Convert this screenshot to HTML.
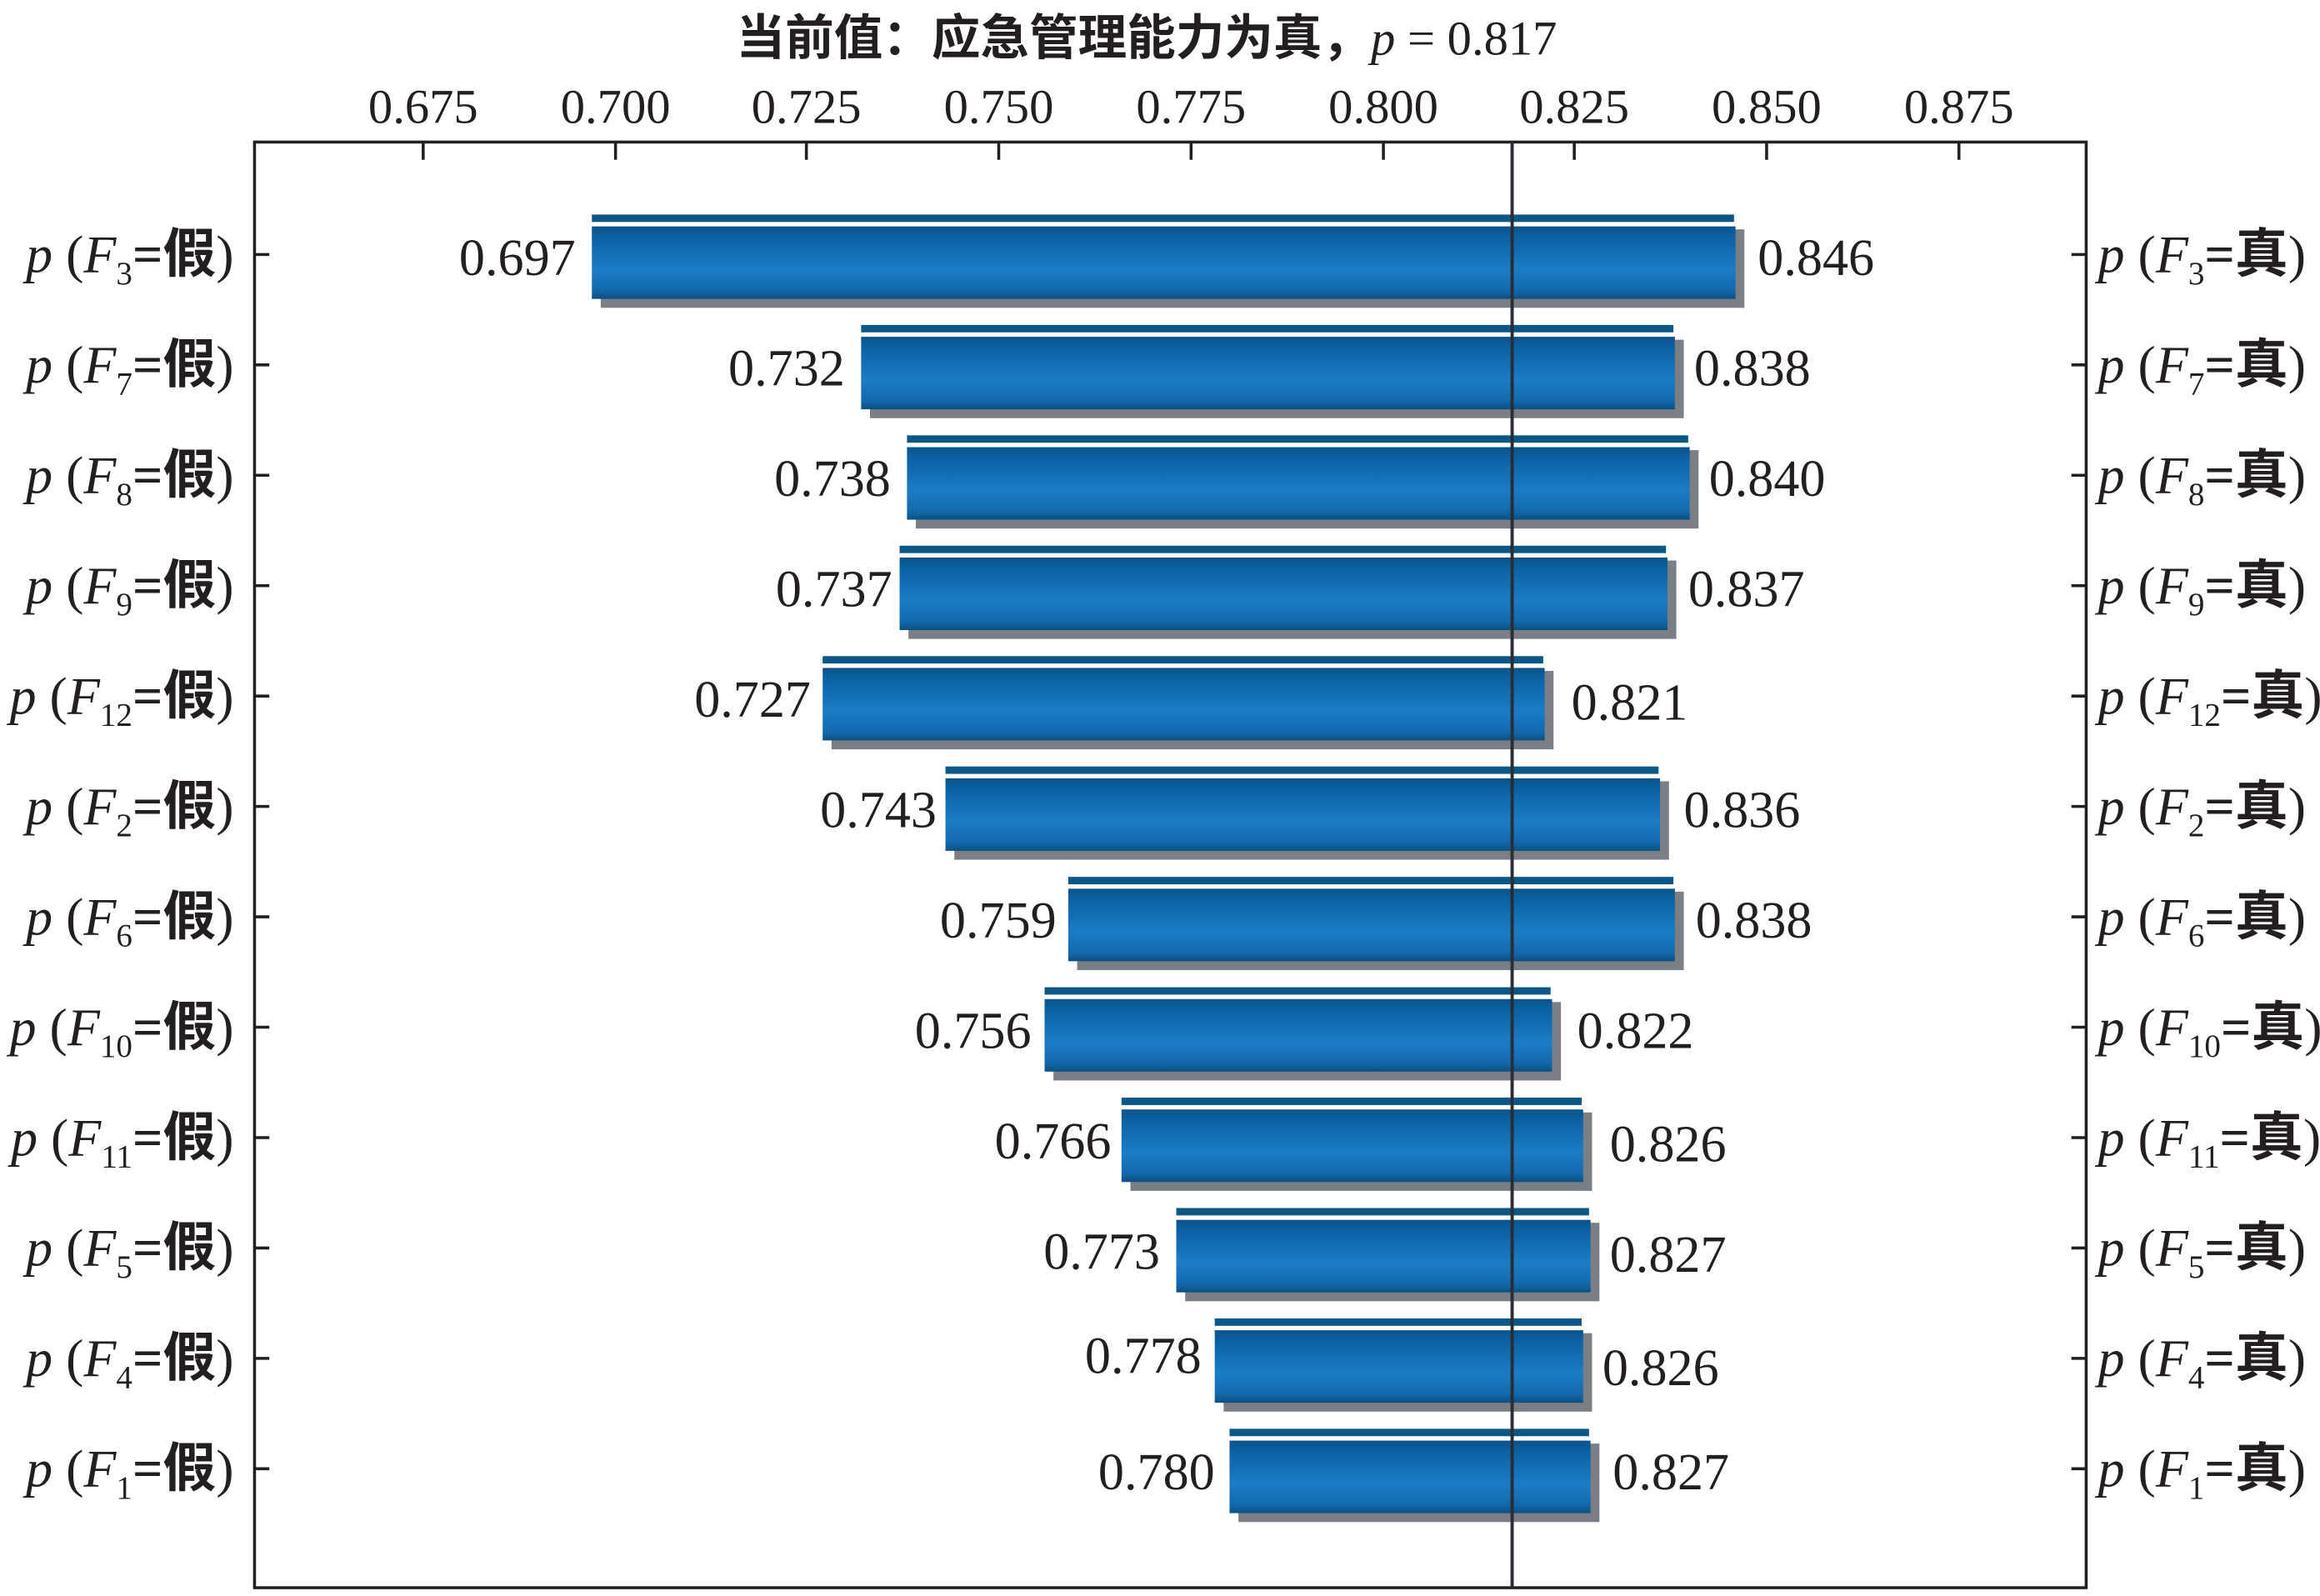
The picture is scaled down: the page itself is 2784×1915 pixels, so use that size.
<!DOCTYPE html>
<html><head><meta charset="utf-8"><style>
html,body{margin:0;padding:0;background:#fff}
svg{display:block}
text{font-family:"Liberation Serif","Noto Serif CJK SC",serif;fill:#231f20}
.cj{font-family:"Liberation Serif","Noto Sans CJK SC",sans-serif;font-weight:bold}
.lab{font-size:36px}
</style></head><body>
<svg width="2784" height="1915" viewBox="0 0 1568 1078.6" xmlns="http://www.w3.org/2000/svg">
<defs>
<linearGradient id="g" x1="0" y1="0" x2="0" y2="1">
<stop offset="0" stop-color="#0a5389"/>
<stop offset="0.15" stop-color="#0b62a3"/>
<stop offset="0.6" stop-color="#1b7cc6"/>
<stop offset="0.88" stop-color="#1369ad"/>
<stop offset="1" stop-color="#0b4f80"/>
</linearGradient>
</defs>
<text x="775" y="37" font-size="33" text-anchor="middle"><tspan class="cj">当前值：应急管理能力为真，</tspan><tspan font-style="italic">p</tspan> = 0.817</text>
<g font-size="33" text-anchor="middle">
<text x="286" y="83">0.675</text><text x="416" y="83">0.700</text><text x="545" y="83">0.725</text><text x="675" y="83">0.750</text><text x="805" y="83">0.775</text><text x="935" y="83">0.800</text><text x="1064" y="83">0.825</text><text x="1194" y="83">0.850</text><text x="1324" y="83">0.875</text>
</g>
<rect x="172" y="96" width="1238" height="977" fill="none" stroke="#231f20" stroke-width="2"/>
<g stroke="#231f20" stroke-width="2">
<line x1="286" y1="96" x2="286" y2="108"/><line x1="416" y1="96" x2="416" y2="108"/><line x1="545" y1="96" x2="545" y2="108"/><line x1="675" y1="96" x2="675" y2="108"/><line x1="805" y1="96" x2="805" y2="108"/><line x1="935" y1="96" x2="935" y2="108"/><line x1="1064" y1="96" x2="1064" y2="108"/><line x1="1194" y1="96" x2="1194" y2="108"/><line x1="1324" y1="96" x2="1324" y2="108"/>
</g>

<g font-size="35">
<g transform="translate(0,172)"><rect x="400" y="-27" width="772" height="5" fill="#0b5785"/><rect x="406" y="-17" width="773" height="53" fill="#7a7f86"/><rect x="400" y="-19" width="773" height="49" fill="url(#g)"/><text x="389" y="14" text-anchor="end">0.697</text><text x="1188" y="14">0.846</text><text class="lab" x="158" y="12" text-anchor="end"><tspan font-style="italic">p</tspan> (<tspan font-style="italic">F</tspan><tspan font-size="22" dy="8">3</tspan><tspan dy="-8" class="cj">=假</tspan>)</text><text class="lab" x="1418" y="12"><tspan font-style="italic">p</tspan> (<tspan font-style="italic">F</tspan><tspan font-size="22" dy="8">3</tspan><tspan dy="-8" class="cj">=真</tspan>)</text><line x1="172" y1="0" x2="182" y2="0" stroke="#231f20" stroke-width="2"/><line x1="1400" y1="0" x2="1410" y2="0" stroke="#231f20" stroke-width="2"/></g>

<g transform="translate(0,246.6)"><rect x="582" y="-27" width="549" height="5" fill="#0b5785"/><rect x="588" y="-17" width="550" height="53" fill="#7a7f86"/><rect x="582" y="-19" width="550" height="49" fill="url(#g)"/><text x="571" y="14" text-anchor="end">0.732</text><text x="1145" y="14">0.838</text><text class="lab" x="158" y="12" text-anchor="end"><tspan font-style="italic">p</tspan> (<tspan font-style="italic">F</tspan><tspan font-size="22" dy="8">7</tspan><tspan dy="-8" class="cj">=假</tspan>)</text><text class="lab" x="1418" y="12"><tspan font-style="italic">p</tspan> (<tspan font-style="italic">F</tspan><tspan font-size="22" dy="8">7</tspan><tspan dy="-8" class="cj">=真</tspan>)</text><line x1="172" y1="0" x2="182" y2="0" stroke="#231f20" stroke-width="2"/><line x1="1400" y1="0" x2="1410" y2="0" stroke="#231f20" stroke-width="2"/></g>

<g transform="translate(0,321.2)"><rect x="613" y="-27" width="528" height="5" fill="#0b5785"/><rect x="619" y="-17" width="529" height="53" fill="#7a7f86"/><rect x="613" y="-19" width="529" height="49" fill="url(#g)"/><text x="602" y="14" text-anchor="end">0.738</text><text x="1155" y="14">0.840</text><text class="lab" x="158" y="12" text-anchor="end"><tspan font-style="italic">p</tspan> (<tspan font-style="italic">F</tspan><tspan font-size="22" dy="8">8</tspan><tspan dy="-8" class="cj">=假</tspan>)</text><text class="lab" x="1418" y="12"><tspan font-style="italic">p</tspan> (<tspan font-style="italic">F</tspan><tspan font-size="22" dy="8">8</tspan><tspan dy="-8" class="cj">=真</tspan>)</text><line x1="172" y1="0" x2="182" y2="0" stroke="#231f20" stroke-width="2"/><line x1="1400" y1="0" x2="1410" y2="0" stroke="#231f20" stroke-width="2"/></g>

<g transform="translate(0,395.8)"><rect x="608" y="-27" width="518" height="5" fill="#0b5785"/><rect x="614" y="-17" width="519" height="53" fill="#7a7f86"/><rect x="608" y="-19" width="519" height="49" fill="url(#g)"/><text x="603" y="14" text-anchor="end">0.737</text><text x="1141" y="14">0.837</text><text class="lab" x="158" y="12" text-anchor="end"><tspan font-style="italic">p</tspan> (<tspan font-style="italic">F</tspan><tspan font-size="22" dy="8">9</tspan><tspan dy="-8" class="cj">=假</tspan>)</text><text class="lab" x="1418" y="12"><tspan font-style="italic">p</tspan> (<tspan font-style="italic">F</tspan><tspan font-size="22" dy="8">9</tspan><tspan dy="-8" class="cj">=真</tspan>)</text><line x1="172" y1="0" x2="182" y2="0" stroke="#231f20" stroke-width="2"/><line x1="1400" y1="0" x2="1410" y2="0" stroke="#231f20" stroke-width="2"/></g>

<g transform="translate(0,470.4)"><rect x="556" y="-27" width="487" height="5" fill="#0b5785"/><rect x="562" y="-17" width="488" height="53" fill="#7a7f86"/><rect x="556" y="-19" width="488" height="49" fill="url(#g)"/><text x="548" y="14" text-anchor="end">0.727</text><text x="1062" y="16">0.821</text><text class="lab" x="158" y="12" text-anchor="end"><tspan font-style="italic">p</tspan> (<tspan font-style="italic">F</tspan><tspan font-size="22" dy="8">12</tspan><tspan dy="-8" class="cj">=假</tspan>)</text><text class="lab" x="1418" y="12"><tspan font-style="italic">p</tspan> (<tspan font-style="italic">F</tspan><tspan font-size="22" dy="8">12</tspan><tspan dy="-8" class="cj">=真</tspan>)</text><line x1="172" y1="0" x2="182" y2="0" stroke="#231f20" stroke-width="2"/><line x1="1400" y1="0" x2="1410" y2="0" stroke="#231f20" stroke-width="2"/></g>

<g transform="translate(0,545)"><rect x="639" y="-27" width="482" height="5" fill="#0b5785"/><rect x="645" y="-17" width="483" height="53" fill="#7a7f86"/><rect x="639" y="-19" width="483" height="49" fill="url(#g)"/><text x="633" y="14" text-anchor="end">0.743</text><text x="1138" y="14">0.836</text><text class="lab" x="158" y="12" text-anchor="end"><tspan font-style="italic">p</tspan> (<tspan font-style="italic">F</tspan><tspan font-size="22" dy="8">2</tspan><tspan dy="-8" class="cj">=假</tspan>)</text><text class="lab" x="1418" y="12"><tspan font-style="italic">p</tspan> (<tspan font-style="italic">F</tspan><tspan font-size="22" dy="8">2</tspan><tspan dy="-8" class="cj">=真</tspan>)</text><line x1="172" y1="0" x2="182" y2="0" stroke="#231f20" stroke-width="2"/><line x1="1400" y1="0" x2="1410" y2="0" stroke="#231f20" stroke-width="2"/></g>

<g transform="translate(0,619.6)"><rect x="722" y="-27" width="409" height="5" fill="#0b5785"/><rect x="728" y="-17" width="410" height="53" fill="#7a7f86"/><rect x="722" y="-19" width="410" height="49" fill="url(#g)"/><text x="714" y="14" text-anchor="end">0.759</text><text x="1146" y="14">0.838</text><text class="lab" x="158" y="12" text-anchor="end"><tspan font-style="italic">p</tspan> (<tspan font-style="italic">F</tspan><tspan font-size="22" dy="8">6</tspan><tspan dy="-8" class="cj">=假</tspan>)</text><text class="lab" x="1418" y="12"><tspan font-style="italic">p</tspan> (<tspan font-style="italic">F</tspan><tspan font-size="22" dy="8">6</tspan><tspan dy="-8" class="cj">=真</tspan>)</text><line x1="172" y1="0" x2="182" y2="0" stroke="#231f20" stroke-width="2"/><line x1="1400" y1="0" x2="1410" y2="0" stroke="#231f20" stroke-width="2"/></g>

<g transform="translate(0,694.2)"><rect x="706" y="-27" width="342" height="5" fill="#0b5785"/><rect x="712" y="-17" width="343" height="53" fill="#7a7f86"/><rect x="706" y="-19" width="343" height="49" fill="url(#g)"/><text x="697" y="14" text-anchor="end">0.756</text><text x="1066" y="14">0.822</text><text class="lab" x="158" y="12" text-anchor="end"><tspan font-style="italic">p</tspan> (<tspan font-style="italic">F</tspan><tspan font-size="22" dy="8">10</tspan><tspan dy="-8" class="cj">=假</tspan>)</text><text class="lab" x="1418" y="12"><tspan font-style="italic">p</tspan> (<tspan font-style="italic">F</tspan><tspan font-size="22" dy="8">10</tspan><tspan dy="-8" class="cj">=真</tspan>)</text><line x1="172" y1="0" x2="182" y2="0" stroke="#231f20" stroke-width="2"/><line x1="1400" y1="0" x2="1410" y2="0" stroke="#231f20" stroke-width="2"/></g>

<g transform="translate(0,768.8)"><rect x="758" y="-27" width="311" height="5" fill="#0b5785"/><rect x="764" y="-17" width="312" height="53" fill="#7a7f86"/><rect x="758" y="-19" width="312" height="49" fill="url(#g)"/><text x="751" y="14" text-anchor="end">0.766</text><text x="1088" y="16">0.826</text><text class="lab" x="158" y="12" text-anchor="end"><tspan font-style="italic">p</tspan> (<tspan font-style="italic">F</tspan><tspan font-size="22" dy="8">11</tspan><tspan dy="-8" class="cj">=假</tspan>)</text><text class="lab" x="1418" y="12"><tspan font-style="italic">p</tspan> (<tspan font-style="italic">F</tspan><tspan font-size="22" dy="8">11</tspan><tspan dy="-8" class="cj">=真</tspan>)</text><line x1="172" y1="0" x2="182" y2="0" stroke="#231f20" stroke-width="2"/><line x1="1400" y1="0" x2="1410" y2="0" stroke="#231f20" stroke-width="2"/></g>

<g transform="translate(0,843.4)"><rect x="795" y="-27" width="279" height="5" fill="#0b5785"/><rect x="801" y="-17" width="280" height="53" fill="#7a7f86"/><rect x="795" y="-19" width="280" height="49" fill="url(#g)"/><text x="784" y="14" text-anchor="end">0.773</text><text x="1088" y="16">0.827</text><text class="lab" x="158" y="12" text-anchor="end"><tspan font-style="italic">p</tspan> (<tspan font-style="italic">F</tspan><tspan font-size="22" dy="8">5</tspan><tspan dy="-8" class="cj">=假</tspan>)</text><text class="lab" x="1418" y="12"><tspan font-style="italic">p</tspan> (<tspan font-style="italic">F</tspan><tspan font-size="22" dy="8">5</tspan><tspan dy="-8" class="cj">=真</tspan>)</text><line x1="172" y1="0" x2="182" y2="0" stroke="#231f20" stroke-width="2"/><line x1="1400" y1="0" x2="1410" y2="0" stroke="#231f20" stroke-width="2"/></g>

<g transform="translate(0,918)"><rect x="821" y="-27" width="248" height="5" fill="#0b5785"/><rect x="827" y="-17" width="249" height="53" fill="#7a7f86"/><rect x="821" y="-19" width="249" height="49" fill="url(#g)"/><text x="812" y="10" text-anchor="end">0.778</text><text x="1083" y="18">0.826</text><text class="lab" x="158" y="12" text-anchor="end"><tspan font-style="italic">p</tspan> (<tspan font-style="italic">F</tspan><tspan font-size="22" dy="8">4</tspan><tspan dy="-8" class="cj">=假</tspan>)</text><text class="lab" x="1418" y="12"><tspan font-style="italic">p</tspan> (<tspan font-style="italic">F</tspan><tspan font-size="22" dy="8">4</tspan><tspan dy="-8" class="cj">=真</tspan>)</text><line x1="172" y1="0" x2="182" y2="0" stroke="#231f20" stroke-width="2"/><line x1="1400" y1="0" x2="1410" y2="0" stroke="#231f20" stroke-width="2"/></g>

<g transform="translate(0,992.6)"><rect x="831" y="-27" width="243" height="5" fill="#0b5785"/><rect x="837" y="-17" width="244" height="53" fill="#7a7f86"/><rect x="831" y="-19" width="244" height="49" fill="url(#g)"/><text x="821" y="14" text-anchor="end">0.780</text><text x="1090" y="14">0.827</text><text class="lab" x="158" y="12" text-anchor="end"><tspan font-style="italic">p</tspan> (<tspan font-style="italic">F</tspan><tspan font-size="22" dy="8">1</tspan><tspan dy="-8" class="cj">=假</tspan>)</text><text class="lab" x="1418" y="12"><tspan font-style="italic">p</tspan> (<tspan font-style="italic">F</tspan><tspan font-size="22" dy="8">1</tspan><tspan dy="-8" class="cj">=真</tspan>)</text><line x1="172" y1="0" x2="182" y2="0" stroke="#231f20" stroke-width="2"/><line x1="1400" y1="0" x2="1410" y2="0" stroke="#231f20" stroke-width="2"/></g>
</g>

<line x1="1022" y1="96" x2="1022" y2="1073" stroke="#2a2d33" stroke-width="2.2"/>
</svg>
</body></html>
